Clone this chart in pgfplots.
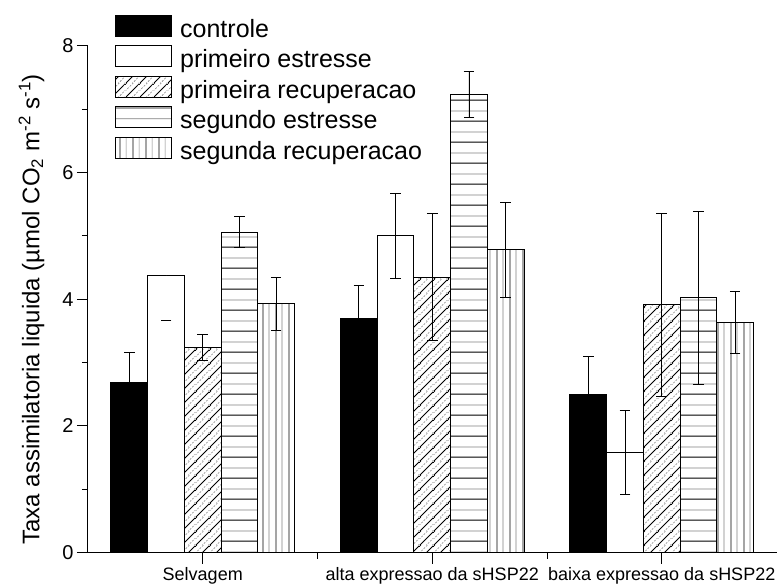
\documentclass[border=0pt]{standalone}
\usepackage{fontspec}
\setmainfont{Liberation Sans}
\usepackage{graphicx}
\usepackage{pgfplots}
\pgfplotsset{compat=1.18}
\usetikzlibrary{patterns.meta}

\pgfdeclarepattern{
  name=diagalt, type=colored,
  bottom left={\pgfpoint{0bp}{0bp}}, top right={\pgfpoint{14bp}{14bp}},
  tile size={\pgfpoint{14bp}{14bp}},
  code={
    \pgfsetstrokecolor{black}\pgfsetlinewidth{0.9bp}
    \pgfpathmoveto{\pgfpoint{-1bp}{-1bp}}\pgfpathlineto{\pgfpoint{15bp}{15bp}}
    \pgfpathmoveto{\pgfpoint{-1bp}{13bp}}\pgfpathlineto{\pgfpoint{1bp}{15bp}}
    \pgfpathmoveto{\pgfpoint{13bp}{-1bp}}\pgfpathlineto{\pgfpoint{15bp}{1bp}}
    \pgfusepath{stroke}
    \pgfsetstrokecolor{gray}\pgfsetlinewidth{0.6bp}
    \pgfsetdash{{2bp}{1.5bp}}{0bp}
    \pgfpathmoveto{\pgfpoint{6bp}{-1bp}}\pgfpathlineto{\pgfpoint{15bp}{8bp}}
    \pgfpathmoveto{\pgfpoint{-1bp}{6bp}}\pgfpathlineto{\pgfpoint{8bp}{15bp}}
    \pgfusepath{stroke}
  }
}
\pgfdeclarepattern{
  name=horalt, type=colored,
  bottom left={\pgfpoint{0bp}{0bp}}, top right={\pgfpoint{20.6bp}{20.6bp}},
  tile size={\pgfpoint{20.6bp}{20.6bp}},
  code={
    \pgfsetstrokecolor{black}\pgfsetlinewidth{0.9bp}
    \pgfpathmoveto{\pgfpoint{-1bp}{5bp}}\pgfpathlineto{\pgfpoint{22bp}{5bp}}
    \pgfusepath{stroke}
    \pgfsetstrokecolor{gray}\pgfsetlinewidth{0.8bp}
    \pgfpathmoveto{\pgfpoint{-1bp}{15.3bp}}\pgfpathlineto{\pgfpoint{22bp}{15.3bp}}
    \pgfusepath{stroke}
  }
}
\pgfdeclarepattern{
  name=veralt, type=colored,
  bottom left={\pgfpoint{0bp}{0bp}}, top right={\pgfpoint{13bp}{13bp}},
  tile size={\pgfpoint{13bp}{13bp}},
  code={
    \pgfsetstrokecolor{black}\pgfsetlinewidth{0.8bp}
    \pgfpathmoveto{\pgfpoint{3.25bp}{-1bp}}\pgfpathlineto{\pgfpoint{3.25bp}{14bp}}
    \pgfusepath{stroke}
    \pgfsetstrokecolor{gray}\pgfsetlinewidth{0.7bp}
    \pgfpathmoveto{\pgfpoint{9.75bp}{-1bp}}\pgfpathlineto{\pgfpoint{9.75bp}{14bp}}
    \pgfusepath{stroke}
  }
}

\begin{document}
\begin{tikzpicture}
\path[use as bounding box] (-88bp,-34.3bp) rectangle (691bp,552.7bp);
\begin{axis}[
  at={(0,0)}, anchor=south west,
  scale only axis, width=688.5bp, height=507bp,
  xmin=-0.5, xmax=2.5, ymin=0, ymax=8,
  ybar, bar width=0.16,
  axis lines*=left,
  axis line style={line width=1bp, black},
  xtick={0,1,2}, minor xtick={0.5,1.5},
  ytick={0,2,4,6,8}, minor ytick={1,3,5,7},
  xticklabels={Selvagem, alta expressao da sHSP22, baixa expressao da sHSP22},
  tick align=outside,
  major tick length=11bp, minor tick length=6bp,
  every tick/.style={line width=1bp, black},
  /pgf/number format/assume math mode=true,
  yticklabel style={font=\fontsize{20bp}{20bp}\selectfont},
  xticklabel style={font=\fontsize{18bp}{18bp}\selectfont},
  ylabel={Taxa assimilatoria liquida (µmol CO\textsubscript{2} m\textsuperscript{-2} s\textsuperscript{-1})},
  ylabel style={font=\fontsize{24bp}{24bp}\selectfont, at={(axis description cs:-0.082,0.48)}, anchor=center},
  legend cell align=left,
  legend style={at={(axis description cs:0,1)}, anchor=north west, xshift=27bp, yshift=31bp,
    draw=none, fill=none, inner sep=0pt,
    font=\fontsize{25bp}{25bp}\selectfont,
    row sep=2bp,
    nodes={inner sep=0pt, text height=18bp, text depth=6bp},
    /tikz/every odd column/.append style={column sep=8bp}},
  myleg/.style={legend image code/.code={\draw[##1, line width=1bp] (0bp,-5bp) rectangle (56bp,16bp);}},
  bars/.style={draw=black, line width=1bp},
  errs/.style={/pgfplots/error bars/y dir=both, /pgfplots/error bars/y explicit,
    /pgfplots/error bars/error bar style={line width=0.8bp, black},
    /pgfplots/error bars/error mark options={rotate=90, black, line width=0.8bp, mark size=5.3bp}},
]
\addplot[bars, fill=black, bar shift=-0.32, myleg, errs] coordinates {
  (0,2.69) +- (0,0.47)
  (1,3.70) +- (0,0.51)
  (2,2.50) +- (0,0.60)
};
\addlegendentry{controle}
\addplot[bars, fill=white, bar shift=-0.16, myleg, errs] coordinates {
  (0,4.37) +- (0,0)
  (1,5.00) +- (0,0.67)
  (2,1.58) +- (0,0.66)
};
\addlegendentry{primeiro estresse}
\addplot[bars, fill=white, postaction={pattern=diagalt}, bar shift=0, myleg, errs] coordinates {
  (0,3.24) +- (0,0.21)
  (1,4.35) +- (0,1.00)
  (2,3.91) +- (0,1.45)
};
\addlegendentry{primeira recuperacao}
\addplot[bars, fill=white, postaction={pattern=horalt}, bar shift=0.16, myleg, errs] coordinates {
  (0,5.06) +- (0,0.24)
  (1,7.23) +- (0,0.36)
  (2,4.02) +- (0,1.37)
};
\addlegendentry{segundo estresse}
\addplot[bars, fill=white, postaction={pattern=veralt}, bar shift=0.32, myleg, errs] coordinates {
  (0,3.93) +- (0,0.42)
  (1,4.78) +- (0,0.75)
  (2,3.63) +- (0,0.49)
};
\addlegendentry{segunda recuperacao}
\addplot[forget plot, draw=none, fill=none, bar shift=-0.16,
  error bars/.cd, y dir=minus, y explicit,
  error bar style={line width=0.8bp, white},
  error mark options={rotate=90, black, line width=0.8bp, mark size=5.3bp}] coordinates {
  (0,4.37) -= (0,0.70)
};
\end{axis}
\end{tikzpicture}
\end{document}
